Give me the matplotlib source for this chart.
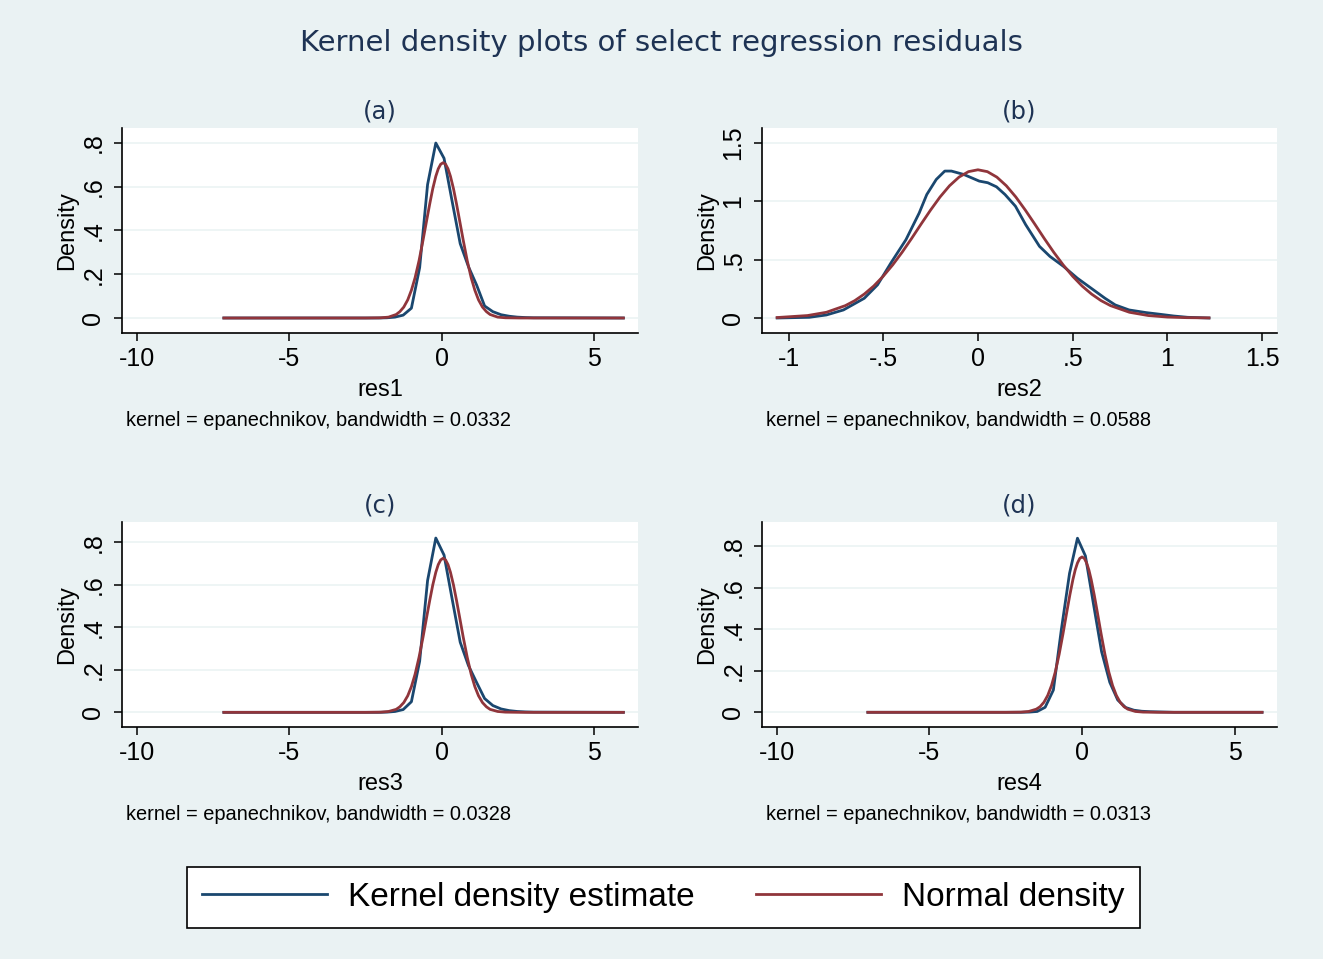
import matplotlib
matplotlib.use('Agg')
import matplotlib.pyplot as plt
from matplotlib.lines import Line2D

W, H = 1323, 959
BG = '#EAF2F3'
BLUE = '#1A476F'
RED = '#90353B'
TITLE_C = '#1E3354'

# ---------------- data ----------------
# (a) res1
a_kde_x = [-7.15, -2.34, -2.07, -1.80, -1.54, -1.27, -1.00, -0.73, -0.47, -0.20, 0.07, 0.34,
           0.60, 0.87, 1.14, 1.40, 1.67, 1.94, 2.21, 2.47, 2.74, 3.01, 5.95]
a_kde_y = [0, 0, 0, 0.001, 0.004, 0.013, 0.045, 0.23, 0.61, 0.80, 0.73, 0.53,
           0.34, 0.235, 0.15, 0.055, 0.029, 0.015, 0.008, 0.004, 0.002, 0.001, 0]
a_norm_x = [-7.15, -2.5, -2.0, -1.75, -1.5, -1.38, -1.25, -1.12, -1.0, -0.88, -0.75, -0.62,
            -0.5, -0.4, -0.3, -0.2, -0.12, -0.04, 0.04, 0.12, 0.2, 0.28, 0.38, 0.48, 0.58,
            0.70, 0.83, 0.96, 1.08, 1.20, 1.33, 1.46, 1.58, 1.83, 2.08, 2.58, 5.95]
a_norm_y = [0, 0, 0.001, 0.004, 0.016, 0.029, 0.050, 0.083, 0.127, 0.184, 0.262, 0.355,
            0.446, 0.521, 0.591, 0.648, 0.682, 0.703, 0.71, 0.703, 0.682, 0.648, 0.591, 0.521, 0.446,
            0.355, 0.262, 0.184, 0.127, 0.083, 0.050, 0.029, 0.016, 0.004, 0.001, 0, 0]

# (b) res2
b_kde_x = [-1.06, -0.89, -0.80, -0.71, -0.60, -0.53, -0.46, -0.38, -0.31, -0.27, -0.22, -0.175,
           -0.14, -0.075, 0.007, 0.052, 0.098, 0.143, 0.198, 0.252, 0.325, 0.38, 0.452, 0.525,
           0.598, 0.671, 0.725, 0.798, 0.889, 0.961, 1.034, 1.107, 1.22]
b_kde_y = [0, 0.006, 0.026, 0.069, 0.169, 0.284, 0.47, 0.671, 0.90, 1.058, 1.187, 1.259,
           1.259, 1.23, 1.173, 1.159, 1.124, 1.058, 0.958, 0.80, 0.614, 0.528, 0.442, 0.341,
           0.255, 0.169, 0.112, 0.069, 0.046, 0.032, 0.017, 0.006, 0]
b_norm_x = [-1.06, -0.9, -0.8, -0.7, -0.65, -0.6, -0.55, -0.5, -0.45, -0.4, -0.35, -0.3, -0.25,
            -0.2, -0.15, -0.1, -0.05, 0, 0.05, 0.1, 0.15, 0.2, 0.25, 0.3, 0.35, 0.4, 0.45, 0.5,
            0.55, 0.6, 0.65, 0.7, 0.8, 0.9, 1.0, 1.1, 1.22]
b_norm_y = [0.004, 0.021, 0.049, 0.106, 0.149, 0.205, 0.274, 0.358, 0.455, 0.564, 0.682, 0.805, 0.925,
            1.037, 1.133, 1.207, 1.254, 1.27, 1.254, 1.207, 1.133, 1.037, 0.925, 0.805, 0.682, 0.564,
            0.455, 0.358, 0.274, 0.205, 0.149, 0.106, 0.049, 0.021, 0.008, 0.003, 0.001]

# (c) res3
c_kde_x = [-7.15, -2.34, -2.07, -1.80, -1.54, -1.27, -1.00, -0.73, -0.47, -0.20, 0.07, 0.34,
           0.60, 0.87, 1.14, 1.40, 1.67, 1.94, 2.21, 2.47, 2.74, 3.01, 5.95]
c_kde_y = [0, 0, 0, 0.001, 0.004, 0.013, 0.05, 0.24, 0.62, 0.82, 0.74, 0.53,
           0.33, 0.22, 0.14, 0.065, 0.032, 0.016, 0.008, 0.004, 0.002, 0.001, 0]
c_norm_x = [-7.15, -2.5, -2.0, -1.75, -1.5, -1.38, -1.25, -1.12, -1.0, -0.88, -0.75, -0.62,
            -0.5, -0.4, -0.3, -0.2, -0.12, -0.04, 0.04, 0.12, 0.2, 0.28, 0.38, 0.48, 0.58,
            0.70, 0.83, 0.96, 1.08, 1.20, 1.33, 1.46, 1.58, 1.83, 2.08, 2.58, 5.95]
c_norm_y = [0, 0, 0.001, 0.004, 0.014, 0.026, 0.046, 0.078, 0.121, 0.179, 0.259, 0.353,
            0.448, 0.526, 0.599, 0.659, 0.695, 0.717, 0.725, 0.717, 0.695, 0.659, 0.599, 0.526, 0.448,
            0.353, 0.259, 0.179, 0.121, 0.078, 0.046, 0.026, 0.014, 0.004, 0.001, 0, 0]

# (d) res4
d_kde_x = [-7.02, -2.26, -2.00, -1.73, -1.47, -1.21, -0.94, -0.68, -0.41, -0.15, 0.11, 0.38,
           0.64, 0.91, 1.17, 1.43, 1.70, 1.96, 2.22, 2.49, 2.75, 3.01, 5.90]
d_kde_y = [0, 0, 0, 0.001, 0.004, 0.024, 0.107, 0.396, 0.668, 0.837, 0.752, 0.516,
           0.292, 0.144, 0.059, 0.023, 0.010, 0.005, 0.003, 0.002, 0.001, 0, 0]
d_norm_x = [-7.02, -2.5, -2.0, -1.75, -1.5, -1.375, -1.25, -1.125, -1.0, -0.875, -0.75, -0.625,
            -0.5, -0.4, -0.3, -0.225, -0.15, -0.075, 0.0, 0.075, 0.15, 0.225, 0.3, 0.4, 0.5,
            0.625, 0.75, 0.875, 1.0, 1.125, 1.25, 1.375, 1.5, 1.75, 2.0, 2.5, 5.9]
d_norm_y = [0, 0, 0.001, 0.004, 0.015, 0.027, 0.048, 0.081, 0.129, 0.195, 0.279, 0.377,
            0.482, 0.564, 0.638, 0.684, 0.718, 0.740, 0.747, 0.740, 0.718, 0.684, 0.638, 0.564, 0.482,
            0.377, 0.279, 0.195, 0.129, 0.081, 0.048, 0.027, 0.015, 0.004, 0.001, 0, 0]

panel_titles = ['(a)', '(b)', '(c)', '(d)']
var_names = ['res1', 'res2', 'res3', 'res4']
bandwidths = ['0.0332', '0.0588', '0.0328', '0.0313']

wide_xticks = [-10, -5, 0, 5]
wide_xlabels = ['-10', '-5', '0', '5']
b_xticks = [-1, -0.5, 0, 0.5, 1, 1.5]
b_xlabels = ['-1', '-.5', '0', '.5', '1', '1.5']
small_yticks = [0, 0.2, 0.4, 0.6, 0.8]
small_ylabels = ['0', '.2', '.4', '.6', '.8']
b_yticks = [0, 0.5, 1, 1.5]
b_ylabels = ['0', '.5', '1', '1.5']

legend_labels = ['Kernel density estimate', 'Normal density']
main_title = 'Kernel density plots of select regression residuals'

# ---------------- layout (pixels) ----------------
boxes = [(122, 128, 638, 333), (762, 128, 1277, 333),
         (122, 522, 638, 727), (762, 522, 1277, 727)]
xlims = [(-10.49, 6.43), (-1.140, 1.579), (-10.49, 6.43), (-10.49, 6.39)]
ylims = [(-0.0686, 0.8686), (-0.1285, 1.628), (-0.069, 0.8955), (-0.0707, 0.915)]

series = [
    (a_kde_x, a_kde_y, a_norm_x, a_norm_y, wide_xticks, wide_xlabels, small_yticks, small_ylabels),
    (b_kde_x, b_kde_y, b_norm_x, b_norm_y, b_xticks, b_xlabels, b_yticks, b_ylabels),
    (c_kde_x, c_kde_y, c_norm_x, c_norm_y, wide_xticks, wide_xlabels, small_yticks, small_ylabels),
    (d_kde_x, d_kde_y, d_norm_x, d_norm_y, wide_xticks, wide_xlabels, small_yticks, small_ylabels),
]

SANS = ['Liberation Sans', 'DejaVu Sans']
plt.rcParams['font.family'] = SANS

fig = plt.figure(figsize=(W / 100, H / 100), dpi=100, facecolor=BG)


def fx(px):
    return px / W


def fy(py):
    return 1 - py / H


for i, (box, xl, yl, s) in enumerate(zip(boxes, xlims, ylims, series)):
    l, t, r, b = box
    kx, ky, nx, ny, xt, xtl, yt, ytl = s
    ax = fig.add_axes([fx(l), fy(b), (r - l) / W, (b - t) / H])
    ax.set_facecolor('white')
    for yv in yt:
        ax.axhline(yv, color=BG, lw=1.1, zorder=0.5)
    ax.plot(kx, ky, color=BLUE, lw=2.0, zorder=2, solid_joinstyle='round')
    ax.plot(nx, ny, color=RED, lw=2.0, zorder=3, solid_joinstyle='round')
    ax.set_xlim(*xl)
    ax.set_ylim(*yl)
    for sp in ['top', 'right']:
        ax.spines[sp].set_visible(False)
    for sp in ['left', 'bottom']:
        ax.spines[sp].set_color('black')
        ax.spines[sp].set_linewidth(1.2)
    ax.set_xticks(xt)
    ax.set_xticklabels(xtl)
    ax.set_yticks(yt)
    ax.set_yticklabels(ytl, rotation=90, va='center')
    ax.tick_params(axis='both', direction='out', length=6, width=1.1, color='black',
                   labelsize=18, labelcolor='black')
    ax.tick_params(axis='x', pad=4)
    ax.tick_params(axis='y', pad=6)

    cx = (l + r) / 2
    cy = (t + b) / 2
    fig.text(fx(cx), fy(t - 10), panel_titles[i], ha='center', va='baseline',
             fontsize=17.5, color=TITLE_C, family=['DejaVu Sans'])
    fig.text(fx(cx), fy(b + 63), var_names[i], ha='center', va='baseline',
             fontsize=17, color='black')
    fig.text(fx(l - 55), fy(cy), 'Density', ha='center', va='center', rotation=90,
             fontsize=17, color='black')
    fig.text(fx(l + 4), fy(b + 93.5),
             'kernel = epanechnikov, bandwidth = ' + bandwidths[i],
             ha='left', va='baseline', fontsize=14.4, color='black')

fig.text(0.5, fy(51), main_title, ha='center', va='baseline', fontsize=21,
         color=TITLE_C, family=['DejaVu Sans'])

handles = [Line2D([], [], color=BLUE, lw=2.0), Line2D([], [], color=RED, lw=2.0)]
leg = fig.legend(handles, legend_labels, loc='center',
                 bbox_to_anchor=(fx(663.5), fy(897.5)), ncol=2,
                 fontsize=24, frameon=True, fancybox=False, shadow=False,
                 handlelength=3.75, handletextpad=0.62, columnspacing=1.85,
                 borderpad=0.46)
leg.get_frame().set_edgecolor('black')
leg.get_frame().set_linewidth(1.2)
leg.get_frame().set_facecolor('white')
leg.get_frame().set_alpha(1)

fig.savefig('out.png', dpi=100, facecolor=BG)
